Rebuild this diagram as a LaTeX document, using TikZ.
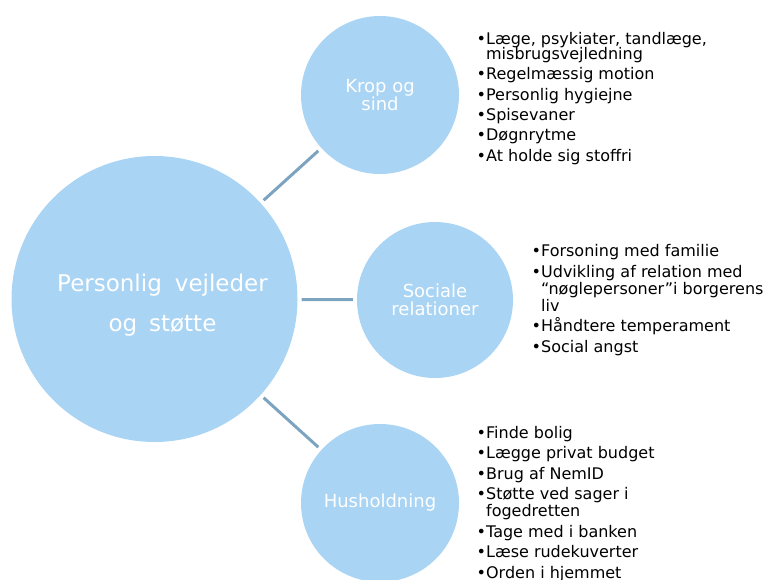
\documentclass[tikz,border=0pt]{standalone}
\usepackage{fontspec}
\setmainfont{DejaVu Sans}
\definecolor{cirkelblaa}{RGB}{169,212,244}
\definecolor{stregblaa}{RGB}{124,164,193}
\tikzset{
  cirkel/.style={circle,fill=cirkelblaa,inner sep=0pt,text=white,align=center},
  forbind/.style={stregblaa,line width=3pt,shorten <=4pt,shorten >=4pt},
  liste/.style={anchor=north west,inner sep=0pt,align=left,
    font=\fontsize{16}{#1}\selectfont},
  liste/.default=17
}
\newcommand{\pkt}{•}
\newcommand{\ind}{\hphantom{•}}
\begin{document}
\begin{tikzpicture}[x=1pt,y=-1pt]
    \useasboundingbox (0,0) rectangle (771,579);
    % Cirkler
    \node[cirkel,minimum size=286pt] (hub) at (154.5,299) {};
    \node[text=white,align=center,font=\fontsize{23}{40}\selectfont] (hubtekst) at (162.5,305)
        {Personlig\hspace{0.25em} vejleder\\og\hspace{0.2em} støtte};
    \node[cirkel,minimum size=158pt,font=\fontsize{18}{18}\selectfont] (krop) at (380,95)
        {Krop og\\sind};
    \node[cirkel,minimum size=156pt,font=\fontsize{18}{18}\selectfont] (social) at (435,300)
        {Sociale\\relationer};
    \node[cirkel,minimum size=158pt,font=\fontsize{18}{18}\selectfont] (hus) at (380,503)
        {Husholdning};

    % Forbindelser
    \foreach \m in {krop,social,hus}
    \draw[forbind] (hub) -- (\m);

    % Punktlister
    \node[liste=15.5] (lkrop) at (476.5,31.8) {%
        \pkt Læge, psykiater, tandlæge,\\
        \ind misbrugsvejledning\\[4.8pt]
        \pkt Regelmæssig motion\\[4.8pt]
        \pkt Personlig hygiejne\\[4.8pt]
        \pkt Spisevaner\\[4.8pt]
        \pkt Døgnrytme\\[4.8pt]
        \pkt At holde sig stoffri};
    \node[liste] (lsocial) at (531.5,244.5) {%
        \pkt Forsoning med familie\\[3.5pt]
        \pkt Udvikling af relation med\\
        \ind “nøglepersoner”i borgerens\\
        \ind liv\\[3.5pt]
        \pkt Håndtere temperament\\[3.5pt]
        \pkt Social angst};
    \node[liste] (lhus) at (476.5,426.1) {%
        \pkt Finde bolig\\[3.5pt]
        \pkt Lægge privat budget\\[3.5pt]
        \pkt Brug af NemID\\[3.5pt]
        \pkt Støtte ved sager i\\
        \ind fogedretten\\[3.5pt]
        \pkt Tage med i banken\\[3.5pt]
        \pkt Læse rudekuverter\\[3.5pt]
        \pkt Orden i hjemmet};
\end{tikzpicture}
\end{document}
